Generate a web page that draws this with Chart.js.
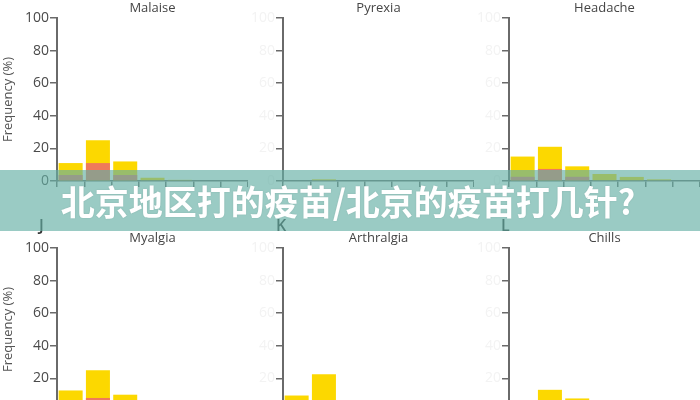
<!DOCTYPE html>
<html>
<head>
<meta charset="utf-8">
<script src="https://cdn.jsdelivr.net/npm/chart.js@4"></script>
<style>
  html, body { margin:0; padding:0; background:#fff; }
  body { width:700px; height:400px; overflow:hidden; position:relative; font-family:"Open Sans", "Noto Sans", sans-serif; }
  canvas.panel { position:absolute; }
  .letter { position:absolute; font-family:"Open Sans", sans-serif; font-size:16px; font-weight:600; color:#333; line-height:16px; }
  #banner { position:absolute; left:0; top:170px; width:700px; height:61px; background:rgba(100,175,165,0.65);
            display:flex; align-items:center; justify-content:center; }
  #banner span { color:#fff; font-family:"Noto Sans CJK SC", sans-serif; font-weight:700; font-size:34px; letter-spacing:0px;
                 text-shadow:0 0 2px rgba(0,0,0,0.12); margin-left:-4px; }
</style>
</head>
<body>
<canvas class="panel" id="c0" width="248" height="200" style="left:0px;top:0px"></canvas>
<canvas class="panel" id="c1" width="248" height="200" style="left:226px;top:0px"></canvas>
<canvas class="panel" id="c2" width="248" height="200" style="left:452px;top:0px"></canvas>
<canvas class="panel" id="c3" width="248" height="200" style="left:0px;top:230px"></canvas>
<canvas class="panel" id="c4" width="248" height="200" style="left:226px;top:230px"></canvas>
<canvas class="panel" id="c5" width="248" height="200" style="left:452px;top:230px"></canvas>
<div class="letter" style="left:39px;top:217px">J</div>
<div class="letter" style="left:276px;top:217px">K</div>
<div class="letter" style="left:501px;top:217px">L</div>
<div id="banner"><span>北京地区打的疫苗/北京的疫苗打几针?</span></div>
<script>
// ---- data ----
const categories = ['1', '2', '3', '4', '5', '6', '7'];
const panelTitles = ['Malaise', 'Pyrexia', 'Headache', 'Myalgia', 'Arthralgia', 'Chills'];
const yTickValues = [0, 20, 40, 60, 80, 100];
const yAxisTitle = 'Frequency (%)';

const malaiseAll = [11, 25, 12, 2, 0.7, 0, 0];
const malaiseSevere = [3.7, 11, 3.7, 0, 0, 0, 0];
const pyrexiaAll = [0, 1, 0, 0, 0, 0, 0];
const pyrexiaSevere = [0, 0, 0, 0, 0, 0, 0];
const headacheAll = [15, 21, 9, 4.3, 2.5, 1, 0];
const headacheSevere = [2.6, 7.4, 2.6, 0, 0, 0, 0];
const myalgiaAll = [12.6, 25, 10, 2, 1, 0, 0];
const myalgiaSevere = [3, 8, 3, 0, 0, 0, 0];
const arthralgiaAll = [9.5, 22.5, 2, 1, 0, 0, 0];
const arthralgiaSevere = [2, 5, 0, 0, 0, 0, 0];
const chillsAll = [3, 13, 7.7, 1, 0, 0, 0];
const chillsSevere = [0, 3, 2, 0, 0, 0, 0];

const allSeries = [malaiseAll, pyrexiaAll, headacheAll, myalgiaAll, arthralgiaAll, chillsAll];
const severeSeries = [malaiseSevere, pyrexiaSevere, headacheSevere, myalgiaSevere, arthralgiaSevere, chillsSevere];

// ---- styles ----
const YELLOW = '#fcd800';
const ORANGE = '#ef7a5a';
const AXIS = '#6a6a6a';

const titlePlugin = {
  id: 'panelTitle',
  afterDraw(chart, args, opts) {
    const ctx = chart.ctx;
    const a = chart.chartArea;
    ctx.save();
    ctx.font = '13px "Open Sans", sans-serif';
    ctx.fillStyle = '#454545';
    ctx.textAlign = 'center';
    ctx.textBaseline = 'middle';
    ctx.fillText(opts.text, (a.left + a.right) / 2, 8);
    ctx.restore();
  }
};

for (let i = 0; i < 6; i++) {
  const leftCol = (i % 3) === 0;
  new Chart(document.getElementById('c' + i), {
    type: 'bar',
    data: {
      labels: categories,
      datasets: [
        { label: 'Grade 2+', data: severeSeries[i], backgroundColor: ORANGE, order: 0, grouped: false,
          categoryPercentage: 1, barPercentage: 0.88 },
        { label: 'Any', data: allSeries[i], backgroundColor: YELLOW, order: 1, grouped: false,
          categoryPercentage: 1, barPercentage: 0.88 }
      ]
    },
    options: {
      responsive: false,
      animation: false,
      devicePixelRatio: 1,
      layout: { padding: { top: 18, bottom: 11, left: 0, right: 0 } },
      plugins: {
        legend: { display: false },
        tooltip: { enabled: false },
        title: { display: false },
        panelTitle: { text: panelTitles[i] }
      },
      scales: {
        x: {
          offset: true,
          grid: { display: true, drawOnChartArea: false, drawTicks: true, tickLength: 6, color: AXIS, lineWidth: 1.5, offset: true },
          border: { display: true, color: AXIS, width: 1.5 },
          ticks: { display: false },
          afterFit(scale) { scale.height = 8; }
        },
        y: {
          min: 0, max: 100,
          afterBuildTicks(scale) { scale.ticks = yTickValues.map(v => ({ value: v })); },
          grid: { display: true, drawOnChartArea: false, drawTicks: true, tickLength: 7, color: AXIS, lineWidth: 1.5 },
          border: { display: true, color: AXIS, width: 2 },
          ticks: {
            color: leftCol ? '#4a4a4a' : '#f3f3f3',
            font: { family: '"Open Sans", sans-serif', size: 14 },
            padding: 1
          },
          title: {
            display: leftCol,
            text: yAxisTitle,
            color: '#555',
            font: { family: '"Open Sans", sans-serif', size: 13 },
            padding: 0
          },
          afterFit(scale) { scale.width = 57; }
        }
      }
    },
    plugins: [titlePlugin]
  });
}
</script>
</body>
</html>
